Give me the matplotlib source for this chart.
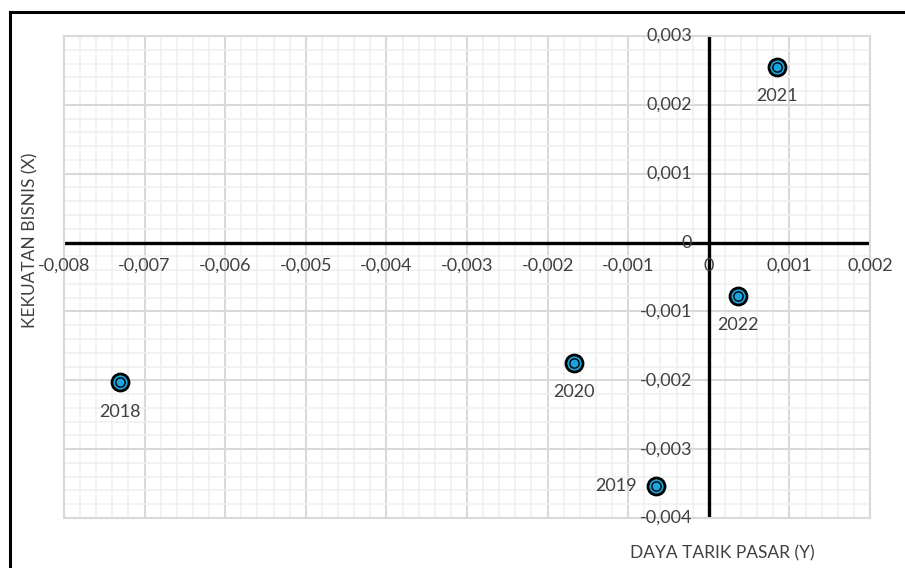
import matplotlib
matplotlib.use("Agg")
import matplotlib.pyplot as plt
from matplotlib.lines import Line2D
import numpy as np

plt.rcParams['font.family'] = ['Lato', 'DejaVu Sans']

years = ["2018", "2019", "2020", "2021", "2022"]
daya_tarik = [-0.00731, -0.00065, -0.00167, 0.00084, 0.00036]
kekuatan = [-0.00203, -0.00354, -0.00175, 0.00255, -0.00078]
x_ticks = [-0.008, -0.007, -0.006, -0.005, -0.004, -0.003, -0.002, -0.001, 0, 0.001, 0.002]
x_tick_labels = ["-0,008", "-0,007", "-0,006", "-0,005", "-0,004", "-0,003", "-0,002", "-0,001", "0", "0,001", "0,002"]
y_ticks = [-0.004, -0.003, -0.002, -0.001, 0, 0.001, 0.002, 0.003]
y_tick_labels = ["-0,004", "-0,003", "-0,002", "-0,001", "0", "0,001", "0,002", "0,003"]
label_pos = ["below", "left", "below", "below", "below"]

fig = plt.figure(figsize=(9.05, 5.68), dpi=100)
ax = fig.add_axes([64/905, 1-518/568, (870-64)/905, (518-36)/568])

ax.set_xlim(-0.008, 0.002)
ax.set_ylim(-0.004, 0.003)
ax.set_xticks(x_ticks)
ax.set_yticks(y_ticks)
ax.set_xticks(np.arange(-0.008, 0.002001, 0.0002), minor=True)
ax.set_yticks(np.arange(-0.004, 0.003001, 0.0002), minor=True)
ax.grid(which='minor', color='#F0F0F0', lw=1.2, zorder=0)
ax.grid(which='major', color='#D9D9D9', lw=1.5, zorder=0.5)
ax.tick_params(which='both', length=0, labelbottom=False, labelleft=False)
for s in ax.spines.values():
    s.set_color('#D9D9D9')
    s.set_linewidth(1.5)

ax.axhline(0, color='black', lw=2.4, zorder=2)
ax.axvline(0, color='black', lw=2.4, zorder=2)

fs = 13
for t, lab in zip(x_ticks, x_tick_labels):
    ax.annotate(lab, (t, 0), xytext=(0, -11), textcoords='offset points',
                ha='center', va='top', fontsize=fs, color='#404040', zorder=3)
for t, lab in zip(y_ticks, y_tick_labels):
    ax.annotate(lab, (0, t), xytext=(-12, 0), textcoords='offset points',
                ha='right', va='center', fontsize=fs, color='#404040', zorder=3)

ax.scatter(daya_tarik, kekuatan, s=150, facecolor='#1BA5DE', edgecolor='black', linewidths=2.0, zorder=4)
ax.scatter(daya_tarik, kekuatan, s=45, facecolor='#1BA5DE', edgecolor='black', linewidths=1.0, zorder=5)

for x, y, yr, pos in zip(daya_tarik, kekuatan, years, label_pos):
    if pos == 'below':
        ax.annotate(yr, (x, y), xytext=(0, -21), textcoords='offset points',
                    ha='center', va='center', fontsize=fs, color='#404040', zorder=6)
    else:
        ax.annotate(yr, (x, y), xytext=(-14, 0), textcoords='offset points',
                    ha='right', va='center', fontsize=fs, color='#404040', zorder=6)

fig.text(30/905, 1-240/568, "KEKUATAN BISNIS (X)", rotation=90, ha='center', va='center',
         fontsize=12.5, color='#404040')
fig.text(722/905, 1-553/568, "DAYA TARIK PASAR (Y)", ha='center', va='center',
         fontsize=12.5, color='#404040')

fig.add_artist(Line2D([10/905, 1.0], [1-12/568, 1-12/568], color='black', lw=2.2, transform=fig.transFigure))
fig.add_artist(Line2D([10/905, 10/905], [1-12/568, 0], color='black', lw=2.2, transform=fig.transFigure))

fig.savefig("out.png", dpi=100)
